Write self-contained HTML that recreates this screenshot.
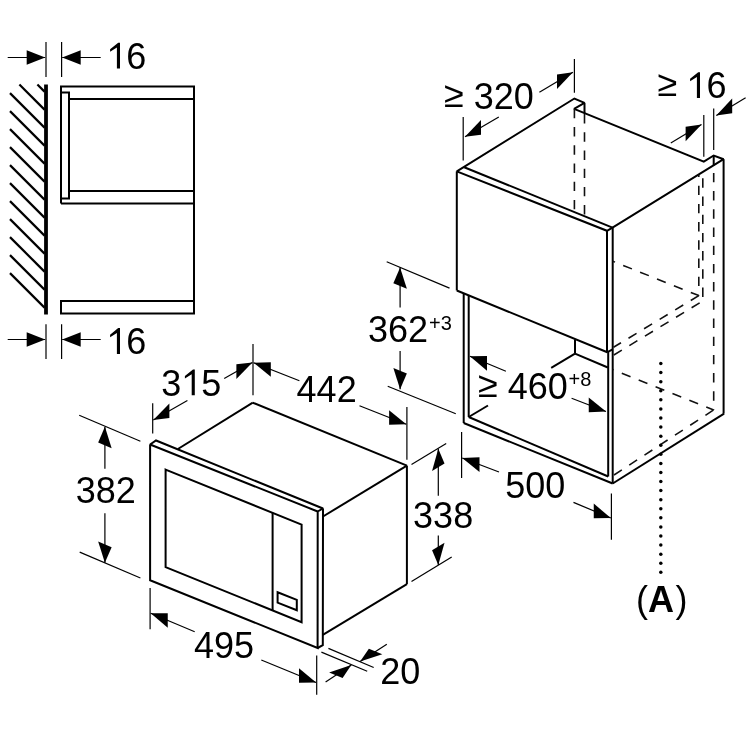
<!DOCTYPE html>
<html><head><meta charset="utf-8"><style>
html,body{margin:0;padding:0;background:#fff;}
svg{display:block;will-change:transform;}
text{font-family:"Liberation Sans",sans-serif;fill:#000;}
</style></head><body>
<svg width="750" height="750" viewBox="0 0 750 750">
<rect width="750" height="750" fill="#fff"/>
<line x1="37.4" y1="84.5" x2="44.5" y2="91.6" stroke="#000" stroke-width="2.2" />
<line x1="19.4" y1="84.5" x2="44.5" y2="109.6" stroke="#000" stroke-width="2.2" />
<line x1="10" y1="93.1" x2="44.5" y2="127.6" stroke="#000" stroke-width="2.2" />
<line x1="10" y1="111.1" x2="44.5" y2="145.6" stroke="#000" stroke-width="2.2" />
<line x1="10" y1="129.1" x2="44.5" y2="163.6" stroke="#000" stroke-width="2.2" />
<line x1="10" y1="147.1" x2="44.5" y2="181.6" stroke="#000" stroke-width="2.2" />
<line x1="10" y1="165.1" x2="44.5" y2="199.6" stroke="#000" stroke-width="2.2" />
<line x1="10" y1="183.1" x2="44.5" y2="217.6" stroke="#000" stroke-width="2.2" />
<line x1="10" y1="201.1" x2="44.5" y2="235.6" stroke="#000" stroke-width="2.2" />
<line x1="10" y1="219.1" x2="44.5" y2="253.6" stroke="#000" stroke-width="2.2" />
<line x1="10" y1="237.1" x2="44.5" y2="271.6" stroke="#000" stroke-width="2.2" />
<line x1="10" y1="255.1" x2="44.5" y2="289.6" stroke="#000" stroke-width="2.2" />
<line x1="10" y1="273.1" x2="44.5" y2="307.6" stroke="#000" stroke-width="2.2" />
<line x1="46" y1="84.5" x2="46" y2="314.5" stroke="#000" stroke-width="3.8" />
<path d="M61,203.4 L61,86.4 L194,86.4 L194,314" fill="none" stroke="#000" stroke-width="2.0" stroke-linejoin="miter" stroke-miterlimit="2"/>
<line x1="69" y1="99" x2="194" y2="99" stroke="#000" stroke-width="2.0" />
<path d="M61,92.6 L69,92.6 L69,198.4 L61,198.4" fill="none" stroke="#000" stroke-width="2.0" stroke-linejoin="miter" stroke-miterlimit="2"/>
<line x1="69" y1="191" x2="194" y2="191" stroke="#000" stroke-width="2.0" />
<line x1="61" y1="203.4" x2="194" y2="203.4" stroke="#000" stroke-width="2.0" />
<path d="M61,301 L194,301 L194,313.5 L61,313.5 Z" fill="none" stroke="#000" stroke-width="2.0" stroke-linejoin="miter" stroke-miterlimit="2"/>
<line x1="46" y1="42" x2="46" y2="77" stroke="#000" stroke-width="1.2" />
<line x1="61.6" y1="42" x2="61.6" y2="77" stroke="#000" stroke-width="1.2" />
<line x1="45.2" y1="57.5" x2="7.7" y2="57.5" stroke="#000" stroke-width="1.2" />
<path d="M45.2,57.5 L26.7,64.8 L26.7,50.2 Z" fill="#000"/>
<line x1="62.2" y1="57.5" x2="100.7" y2="57.5" stroke="#000" stroke-width="1.2" />
<path d="M62.2,57.5 L80.7,64.8 L80.7,50.2 Z" fill="#000"/>
<line x1="46" y1="324.3" x2="46" y2="359" stroke="#000" stroke-width="1.2" />
<line x1="61.6" y1="324.3" x2="61.6" y2="359" stroke="#000" stroke-width="1.2" />
<line x1="45.2" y1="339.5" x2="7.7" y2="339.5" stroke="#000" stroke-width="1.2" />
<path d="M45.2,339.5 L26.7,346.8 L26.7,332.2 Z" fill="#000"/>
<line x1="62.2" y1="339.5" x2="100.7" y2="339.5" stroke="#000" stroke-width="1.2" />
<path d="M62.2,339.5 L80.7,346.8 L80.7,332.2 Z" fill="#000"/>
<text x="126.32" y="68.5" font-size="36" font-weight="normal" text-anchor="start">6</text>
<path d="M120,42.7 L120,68.5 L116.9,68.5 L116.9,47.5 L110.1,51.8 L110.1,49.3 L118.2,42.7 Z" fill="#000"/>
<text x="126.32" y="354" font-size="36" font-weight="normal" text-anchor="start">6</text>
<path d="M120,328.1 L120,353.9 L116.9,353.9 L116.9,332.9 L110.1,337.2 L110.1,334.7 L118.2,328.1 Z" fill="#000"/>
<path d="M456.8,171.4 L574.4,98.5 L584.5,102.8 L574.1,108.9 L703.8,161.6 L713.7,155.5 L723.6,159.2 L612.5,227.6 L607,230.8 L456.8,171.4 Z" fill="none" stroke="#000" stroke-width="2.0" stroke-linejoin="miter" stroke-miterlimit="2"/>
<line x1="464.2" y1="167.2" x2="612.5" y2="227.6" stroke="#000" stroke-width="2.0" />
<line x1="723.6" y1="159.2" x2="723.6" y2="413.6" stroke="#000" stroke-width="2.0" />
<line x1="713.7" y1="155.5" x2="713.7" y2="165.3" stroke="#000" stroke-width="2.0" />
<line x1="584.5" y1="102.8" x2="584.5" y2="113.3" stroke="#000" stroke-width="2.0" />
<line x1="456.8" y1="171.4" x2="456.8" y2="290.5" stroke="#000" stroke-width="2.0" />
<line x1="456.8" y1="290.5" x2="607.3" y2="352.2" stroke="#000" stroke-width="2.0" />
<line x1="607" y1="230.8" x2="607" y2="352.2" stroke="#000" stroke-width="2.0" />
<line x1="612.7" y1="227.6" x2="612.7" y2="483.5" stroke="#000" stroke-width="2.0" />
<line x1="607.3" y1="352.2" x2="612.7" y2="349.4" stroke="#000" stroke-width="2.0" />
<line x1="608.2" y1="352" x2="608.2" y2="476.5" stroke="#000" stroke-width="2.0" />
<line x1="463.7" y1="293.3" x2="463.7" y2="423" stroke="#000" stroke-width="2.0" />
<line x1="468.7" y1="295.4" x2="468.7" y2="417" stroke="#000" stroke-width="2.0" />
<line x1="463.7" y1="423" x2="612.7" y2="483.5" stroke="#000" stroke-width="2.0" />
<line x1="468.7" y1="417" x2="608.2" y2="476.5" stroke="#000" stroke-width="2.0" />
<line x1="612.7" y1="483.5" x2="724.1" y2="413.6" stroke="#000" stroke-width="2.0" />
<line x1="468.7" y1="417" x2="488" y2="405.5" stroke="#000" stroke-width="2.0" />
<line x1="551.2" y1="367.8" x2="575" y2="353.6" stroke="#000" stroke-width="2.0" />
<line x1="575" y1="339.5" x2="575" y2="353.6" stroke="#000" stroke-width="2.0" />
<line x1="575" y1="353.6" x2="607.8" y2="367.5" stroke="#000" stroke-width="2.0" />
<path d="M574.4,108.9 L574.4,118.3 M574.4,127.1 L574.4,136.5 M574.4,145.3 L574.4,154.7 M574.4,163.5 L574.4,172.9 M574.4,181.7 L574.4,191.1 M574.4,199.9 L574.4,209.3" stroke="#111" stroke-width="1.6" fill="none"/>
<path d="M584.5,114.1 L584.5,123.5 M584.5,132.3 L584.5,141.7 M584.5,150.5 L584.5,159.9 M584.5,168.7 L584.5,178.1 M584.5,186.9 L584.5,196.3 M584.5,205.1 L584.5,214.5" stroke="#111" stroke-width="1.6" fill="none"/>
<path d="M698.8,174.5 L698.8,176.9 M698.8,185.7 L698.8,195.1 M698.8,203.9 L698.8,213.3 M698.8,222.1 L698.8,231.5 M698.8,240.3 L698.8,249.7 M698.8,258.5 L698.8,267.9 M698.8,276.7 L698.8,286.1 M698.8,294.9 L698.8,295.6" stroke="#111" stroke-width="1.6" fill="none"/>
<path d="M702.8,178.3 L702.8,187.7 M702.8,196.5 L702.8,205.9 M702.8,214.7 L702.8,224.1 M702.8,232.9 L702.8,242.3 M702.8,251.1 L702.8,260.5 M702.8,269.3 L702.8,278.7 M702.8,287.5 L702.8,296.9" stroke="#111" stroke-width="1.6" fill="none"/>
<path d="M713.7,172.9 L713.7,182.3 M713.7,191.1 L713.7,200.5 M713.7,209.3 L713.7,218.7 M713.7,227.5 L713.7,236.9 M713.7,245.7 L713.7,255.1 M713.7,263.9 L713.7,273.3 M713.7,282.1 L713.7,291.5 M713.7,300.3 L713.7,309.7 M713.7,318.5 L713.7,327.9 M713.7,336.7 L713.7,346.1 M713.7,354.9 L713.7,364.3 M713.7,373.1 L713.7,382.5 M713.7,391.3 L713.7,400.7 M713.7,409.5 L713.7,409.9" stroke="#111" stroke-width="1.6" fill="none"/>
<path d="M612.7,261.2 L615.02,262.13 M623.19,265.39 L631.92,268.88 M640.09,272.15 L648.82,275.63 M657,278.9 L665.72,282.39 M673.9,285.65 L682.63,289.14 M690.8,292.4 L698.8,295.6" stroke="#111" stroke-width="1.6" fill="none"/>
<path d="M698.8,295.6 L690.76,300.47 M683.24,305.03 L675.2,309.91 M667.67,314.47 L659.63,319.34 M652.11,323.9 L644.07,328.77 M636.54,333.33 L628.5,338.21 M620.98,342.77 L613.5,347.3" stroke="#111" stroke-width="1.6" fill="none"/>
<path d="M699.64,302.92 L691.6,307.8 M684.08,312.36 L676.04,317.24 M668.52,321.81 L660.48,326.68 M652.96,331.25 L644.93,336.13 M637.4,340.69 L629.37,345.57 M621.84,350.14 L613.81,355.01" stroke="#111" stroke-width="1.6" fill="none"/>
<path d="M612.7,369.5 L613.63,369.87 M621.8,373.15 L630.52,376.65 M638.69,379.92 L647.41,383.42 M655.58,386.69 L664.31,390.19 M672.47,393.47 L681.2,396.97 M689.37,400.24 L698.09,403.74 M706.26,407.02 L713.7,410" stroke="#111" stroke-width="1.6" fill="none"/>
<path d="M614,475 L621.87,469.86 M629.24,465.05 L637.11,459.91 M644.48,455.1 L652.35,449.96 M659.72,445.15 L667.59,440.01 M674.96,435.2 L682.83,430.06 M690.2,425.25 L698.07,420.11 M705.43,415.3 L713.3,410.16" stroke="#111" stroke-width="1.6" fill="none"/>
<circle cx="660.8" cy="363.5" r="1.75" fill="#000"/>
<circle cx="660.8" cy="372.58" r="1.75" fill="#000"/>
<circle cx="660.8" cy="381.66" r="1.75" fill="#000"/>
<circle cx="660.8" cy="390.74" r="1.75" fill="#000"/>
<circle cx="660.8" cy="399.82" r="1.75" fill="#000"/>
<circle cx="660.8" cy="408.9" r="1.75" fill="#000"/>
<circle cx="660.8" cy="417.98" r="1.75" fill="#000"/>
<circle cx="660.8" cy="427.06" r="1.75" fill="#000"/>
<circle cx="660.8" cy="436.14" r="1.75" fill="#000"/>
<circle cx="660.8" cy="445.22" r="1.75" fill="#000"/>
<circle cx="660.8" cy="454.3" r="1.75" fill="#000"/>
<circle cx="660.8" cy="463.38" r="1.75" fill="#000"/>
<circle cx="660.8" cy="472.46" r="1.75" fill="#000"/>
<circle cx="660.8" cy="481.54" r="1.75" fill="#000"/>
<circle cx="660.8" cy="490.62" r="1.75" fill="#000"/>
<circle cx="660.8" cy="499.7" r="1.75" fill="#000"/>
<circle cx="660.8" cy="508.78" r="1.75" fill="#000"/>
<circle cx="660.8" cy="517.86" r="1.75" fill="#000"/>
<circle cx="660.8" cy="526.94" r="1.75" fill="#000"/>
<circle cx="660.8" cy="536.02" r="1.75" fill="#000"/>
<circle cx="660.8" cy="545.1" r="1.75" fill="#000"/>
<circle cx="660.8" cy="554.18" r="1.75" fill="#000"/>
<circle cx="660.8" cy="563.26" r="1.75" fill="#000"/>
<circle cx="660.8" cy="572.34" r="1.75" fill="#000"/>
<line x1="463.2" y1="117" x2="463.2" y2="160.4" stroke="#000" stroke-width="1.2" />
<line x1="574.4" y1="59" x2="574.4" y2="92.8" stroke="#000" stroke-width="1.2" />
<line x1="465" y1="136.7" x2="498.8" y2="117" stroke="#000" stroke-width="1.2" />
<path d="M465,136.7 L480.98,134.68 L480.98,120.08 Z" fill="#000"/>
<line x1="572.9" y1="72.2" x2="539.4" y2="92.2" stroke="#000" stroke-width="1.2" />
<path d="M572.9,72.2 L557.02,88.98 L557.02,74.38 Z" fill="#000"/>
<text x="444" y="108.6" font-size="36" font-weight="normal" text-anchor="start"><tspan dy="-1.9">≥</tspan><tspan dy="1.9"> 320</tspan></text>
<line x1="703.8" y1="115" x2="703.8" y2="156.8" stroke="#000" stroke-width="1.2" />
<line x1="713.7" y1="108.4" x2="713.7" y2="150.1" stroke="#000" stroke-width="1.2" />
<line x1="701.5" y1="124.5" x2="670.8" y2="142.9" stroke="#000" stroke-width="1.2" />
<path d="M701.5,124.5 L685.63,141.31 L685.63,126.71 Z" fill="#000"/>
<line x1="716.3" y1="115.4" x2="745.6" y2="97.8" stroke="#000" stroke-width="1.2" />
<path d="M716.3,115.4 L732.16,113.17 L732.16,98.57 Z" fill="#000"/>
<text x="706.48" y="98.2" font-size="36" font-weight="normal" text-anchor="start">6</text>
<text x="657.5" y="98.2" font-size="36" font-weight="normal" text-anchor="start"><tspan dy="-1.9">≥</tspan><tspan dy="1.9"></tspan></text>
<path d="M700,72.2 L700,98 L696.9,98 L696.9,77 L690.1,81.3 L690.1,78.8 L698.2,72.2 Z" fill="#000"/>
<line x1="386.7" y1="261.8" x2="449.5" y2="288.1" stroke="#000" stroke-width="1.2" />
<line x1="387.7" y1="386.2" x2="455.8" y2="413.8" stroke="#000" stroke-width="1.2" />
<line x1="400.1" y1="267.5" x2="400.1" y2="307.6" stroke="#000" stroke-width="1.2" />
<path d="M400.1,267.5 L406.85,288.77 L393.35,283.23 Z" fill="#000"/>
<line x1="400.1" y1="389.3" x2="400.1" y2="351.1" stroke="#000" stroke-width="1.2" />
<path d="M400.1,389.3 L406.85,373.57 L393.35,368.03 Z" fill="#000"/>
<text x="368" y="341.6" font-size="36" font-weight="normal" text-anchor="start">362</text>
<text x="429" y="329.6" font-size="20" font-weight="normal" text-anchor="start">+3</text>
<line x1="469.9" y1="356.3" x2="505.9" y2="371.2" stroke="#000" stroke-width="1.2" />
<path d="M469.9,356.3 L486.99,370.67 L486.99,356.07 Z" fill="#000"/>
<line x1="606" y1="411.5" x2="571.6" y2="398.3" stroke="#000" stroke-width="1.2" />
<path d="M606,411.5 L588.73,412.17 L588.73,397.57 Z" fill="#000"/>
<text x="478" y="398.8" font-size="36" font-weight="normal" text-anchor="start"><tspan dy="-1.9">≥</tspan><tspan dy="1.9"> 460</tspan></text>
<text x="568.5" y="386.1" font-size="20" font-weight="normal" text-anchor="start">+8</text>
<line x1="461.6" y1="432" x2="461.6" y2="478" stroke="#000" stroke-width="1.2" />
<line x1="611.4" y1="493.5" x2="611.4" y2="539.8" stroke="#000" stroke-width="1.2" />
<line x1="462.2" y1="458" x2="499" y2="472" stroke="#000" stroke-width="1.2" />
<path d="M462.2,458 L479.49,471.88 L479.49,457.28 Z" fill="#000"/>
<line x1="610.8" y1="518" x2="573.5" y2="502.4" stroke="#000" stroke-width="1.2" />
<path d="M610.8,518 L593.73,518.16 L593.73,503.56 Z" fill="#000"/>
<text x="505.2" y="497.8" font-size="36" font-weight="normal" text-anchor="start">500</text>
<text x="636.1" y="611.8" font-size="36" font-weight="normal" text-anchor="start">(<tspan font-weight="bold">A</tspan><tspan dx="1.5">)</tspan></text>
<line x1="252.8" y1="402.7" x2="177.9" y2="449" stroke="#000" stroke-width="2.0" />
<line x1="252.8" y1="402.7" x2="406.9" y2="465.6" stroke="#000" stroke-width="2.0" />
<line x1="406.9" y1="465.6" x2="406.9" y2="584.2" stroke="#000" stroke-width="2.0" />
<line x1="406.9" y1="465.6" x2="323" y2="516.5" stroke="#000" stroke-width="2.0" />
<line x1="406.9" y1="584.2" x2="322.8" y2="634.8" stroke="#000" stroke-width="2.0" />
<path d="M317.7,511.5 L150.1,444.5 L156,440.5 L323,508.5 L317.7,511.5 L317.6,648 L150.1,580.3 L150.1,444.5" fill="none" stroke="#000" stroke-width="2.0" stroke-linejoin="miter" stroke-miterlimit="2"/>
<path d="M323,508.5 L322.8,645.2 L317.6,648" fill="none" stroke="#000" stroke-width="2.0" stroke-linejoin="miter" stroke-miterlimit="2"/>
<path d="M165.6,469.6 L301.6,524.6 L301.6,622.2 L165.6,567.2 Z" fill="none" stroke="#000" stroke-width="2.0" stroke-linejoin="miter" stroke-miterlimit="2"/>
<line x1="272.6" y1="512.8" x2="272.6" y2="610.4" stroke="#000" stroke-width="2.0" />
<path d="M277.6,592.2 L296.8,599.9 L296.8,610.3 L277.6,602.6 Z" fill="none" stroke="#000" stroke-width="2.0" stroke-linejoin="miter" stroke-miterlimit="2"/>
<line x1="152.7" y1="403.2" x2="152.7" y2="433.6" stroke="#000" stroke-width="1.2" />
<line x1="253" y1="344" x2="253" y2="395.2" stroke="#000" stroke-width="1.2" />
<line x1="153.3" y1="420" x2="187.4" y2="400.5" stroke="#000" stroke-width="1.2" />
<path d="M153.3,420 L169.36,418.12 L169.36,403.52 Z" fill="#000"/>
<line x1="252.4" y1="362.4" x2="224.2" y2="378.6" stroke="#000" stroke-width="1.2" />
<path d="M252.4,362.4 L236.36,378.92 L236.36,364.32 Z" fill="#000"/>
<text x="161.2" y="395.6" font-size="36" font-weight="normal" text-anchor="start">3</text>
<text x="201.24" y="395.6" font-size="36" font-weight="normal" text-anchor="start">5</text>
<path d="M194.8,369.4 L194.8,395.2 L191.7,395.2 L191.7,374.2 L184.9,378.5 L184.9,376 L193,369.4 Z" fill="#000"/>
<line x1="406.9" y1="406.9" x2="406.9" y2="459.7" stroke="#000" stroke-width="1.2" />
<line x1="253.6" y1="362.7" x2="299.4" y2="380.8" stroke="#000" stroke-width="1.2" />
<path d="M253.6,362.7 L270.81,376.8 L270.81,362.2 Z" fill="#000"/>
<line x1="406.3" y1="424.3" x2="359.5" y2="405.8" stroke="#000" stroke-width="1.2" />
<path d="M406.3,424.3 L389.1,424.8 L389.1,410.2 Z" fill="#000"/>
<text x="296.6" y="401.8" font-size="36" font-weight="normal" text-anchor="start">442</text>
<line x1="79.2" y1="415.3" x2="140.4" y2="441.2" stroke="#000" stroke-width="1.2" />
<line x1="79.7" y1="552.1" x2="140.4" y2="578" stroke="#000" stroke-width="1.2" />
<line x1="104.9" y1="426.8" x2="104.9" y2="468.8" stroke="#000" stroke-width="1.2" />
<path d="M104.9,426.8 L111.63,448.13 L98.17,442.47 Z" fill="#000"/>
<line x1="104.9" y1="562.8" x2="104.9" y2="513.2" stroke="#000" stroke-width="1.2" />
<path d="M104.9,562.8 L111.63,547.13 L98.17,541.47 Z" fill="#000"/>
<text x="75.8" y="503.2" font-size="36" font-weight="normal" text-anchor="start">382</text>
<line x1="411.5" y1="464.5" x2="446.2" y2="443.6" stroke="#000" stroke-width="1.2" />
<line x1="411.5" y1="581.5" x2="451.7" y2="557" stroke="#000" stroke-width="1.2" />
<line x1="438.3" y1="448.7" x2="438.3" y2="495.8" stroke="#000" stroke-width="1.2" />
<path d="M438.3,448.7 L444.53,463.4 L432.07,471 Z" fill="#000"/>
<line x1="438.3" y1="565" x2="438.3" y2="535.4" stroke="#000" stroke-width="1.2" />
<path d="M438.3,565 L444.53,542.7 L432.07,550.3 Z" fill="#000"/>
<text x="413.1" y="527.6" font-size="36" font-weight="normal" text-anchor="start">338</text>
<line x1="150.1" y1="588" x2="150.1" y2="629.3" stroke="#000" stroke-width="1.2" />
<line x1="316.7" y1="655.6" x2="316.7" y2="694.7" stroke="#000" stroke-width="1.2" />
<line x1="150.7" y1="613.3" x2="194.7" y2="631.7" stroke="#000" stroke-width="1.2" />
<path d="M150.7,613.3 L167.77,627.74 L167.77,613.14 Z" fill="#000"/>
<line x1="316.1" y1="682.5" x2="261.3" y2="660" stroke="#000" stroke-width="1.2" />
<path d="M316.1,682.5 L298.99,682.77 L298.99,668.17 Z" fill="#000"/>
<text x="194" y="658.4" font-size="36" font-weight="normal" text-anchor="start">495</text>
<line x1="328.4" y1="648.4" x2="373.7" y2="667.5" stroke="#000" stroke-width="1.2" />
<line x1="321.4" y1="652.1" x2="367.2" y2="671.3" stroke="#000" stroke-width="1.2" />
<line x1="351.3" y1="665" x2="325.6" y2="682" stroke="#000" stroke-width="1.2" />
<path d="M351.3,665 L342.6,678.03 L329.14,672.38 Z" fill="#000"/>
<line x1="360.1" y1="661.6" x2="386.8" y2="644.2" stroke="#000" stroke-width="1.2" />
<path d="M360.1,661.6 L382.33,654.33 L368.87,648.67 Z" fill="#000"/>
<text x="380.3" y="683.6" font-size="36" font-weight="normal" text-anchor="start">20</text>
</svg>
</body></html>
